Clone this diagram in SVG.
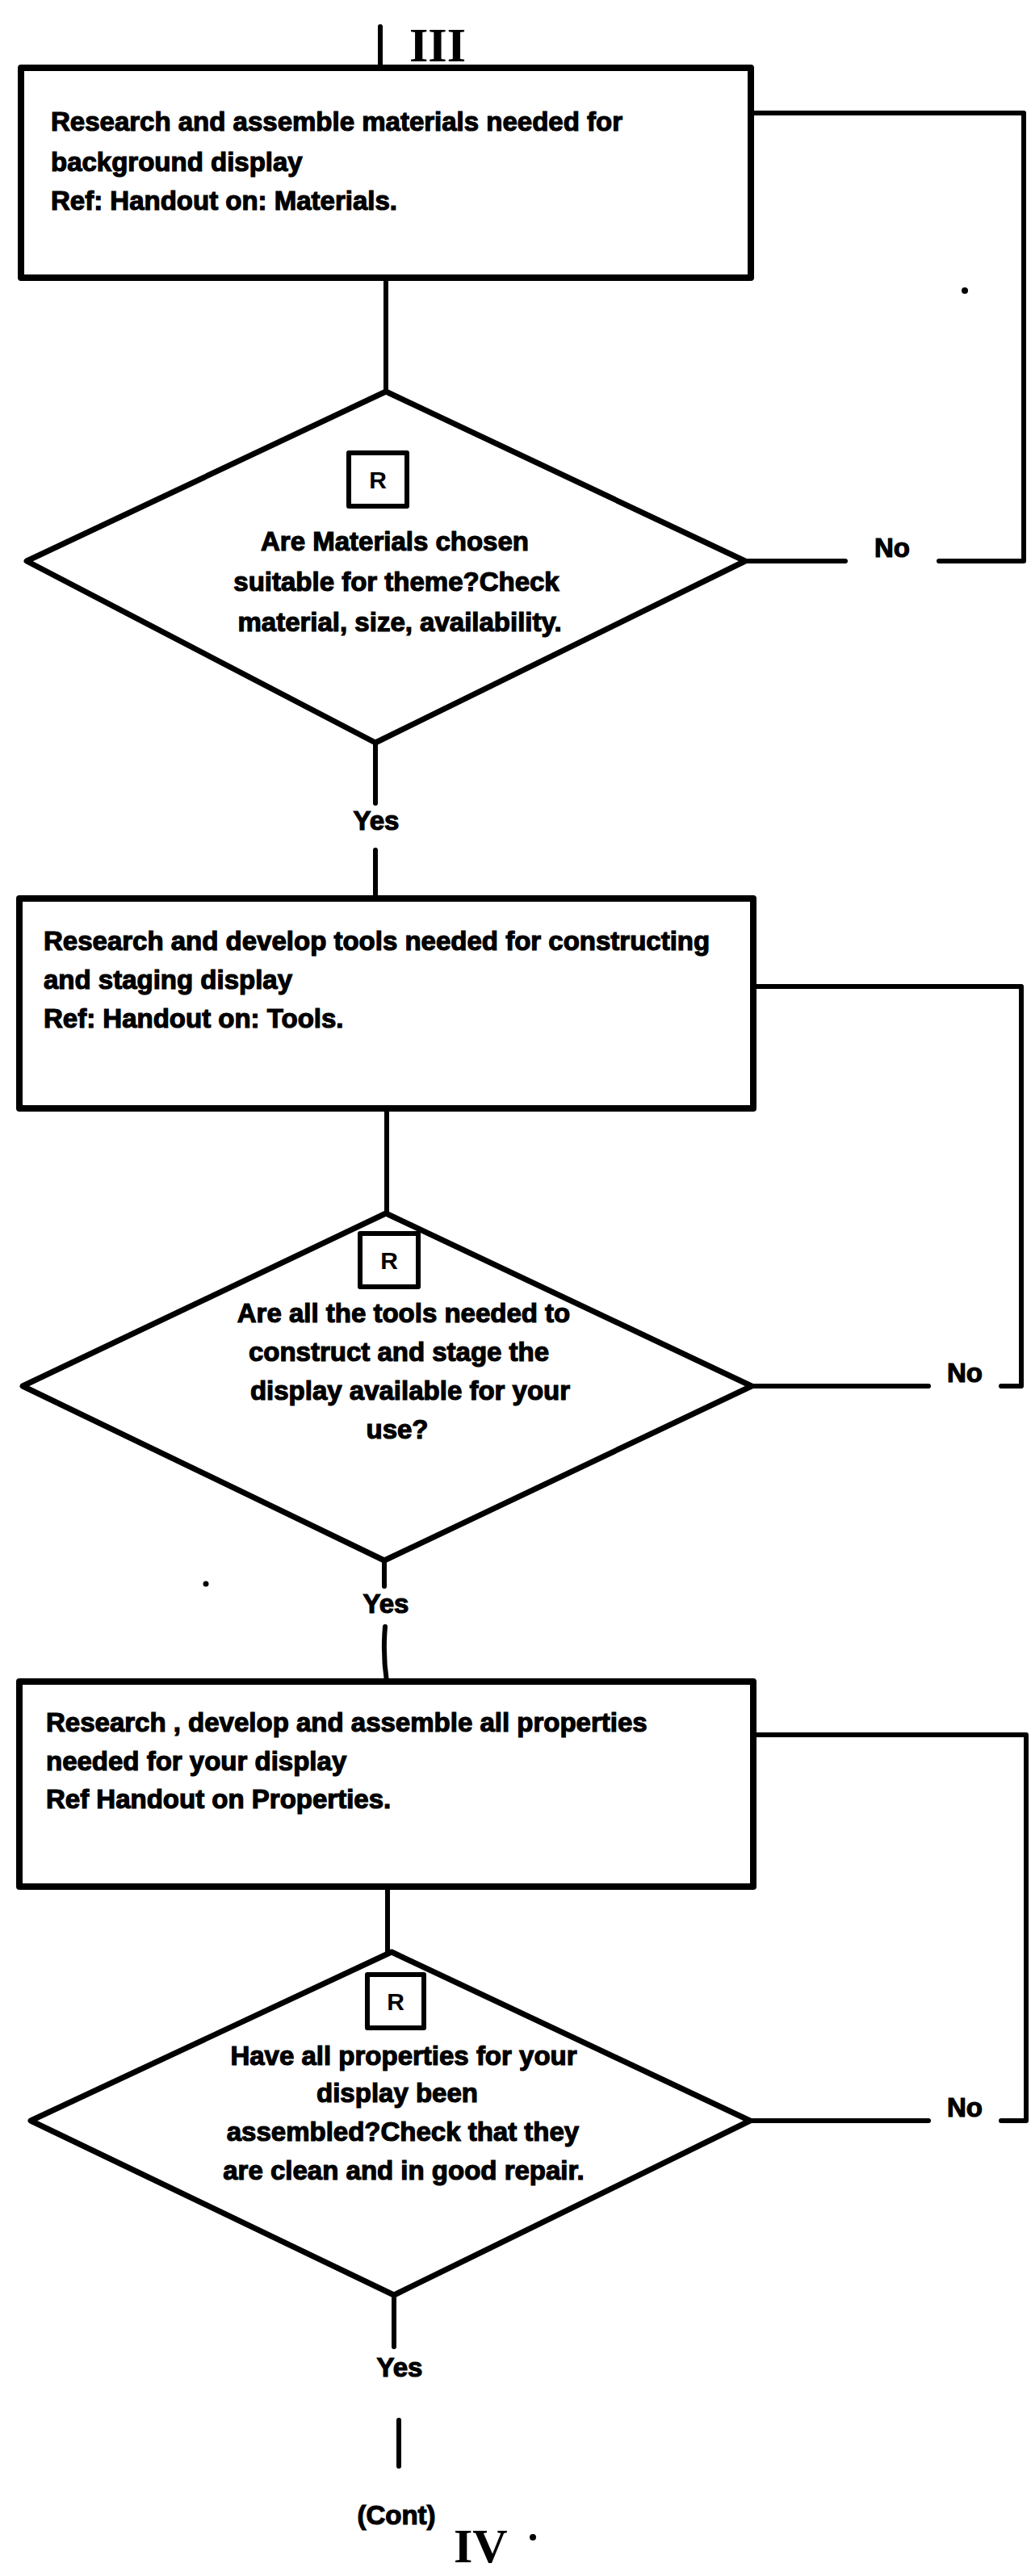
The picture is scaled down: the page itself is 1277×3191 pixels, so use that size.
<svg xmlns="http://www.w3.org/2000/svg" width="1277" height="3191" viewBox="0 0 1277 3191">
  <style>
    .box{fill:none;stroke:#000;stroke-width:8;stroke-linejoin:round}
    .dia{fill:none;stroke:#000;stroke-width:7;stroke-linejoin:round}
    .rbox{fill:none;stroke:#000;stroke-width:6;stroke-linejoin:round}
    .wire{fill:none;stroke:#000;stroke-width:6;stroke-linecap:round;stroke-linejoin:round}
    .t{font-family:"Liberation Sans",Arial,sans-serif;font-weight:bold;font-size:33px;fill:#000;stroke:#000;stroke-width:1.2}
    .c{text-anchor:middle}
    .roman{font-family:"Liberation Serif","Times New Roman",serif;font-weight:bold;font-size:60px;fill:#000}
    .r{font-family:"Liberation Sans",Arial,sans-serif;font-weight:bold;font-size:30px;fill:#000;text-anchor:middle}
  </style>
  <rect x="0" y="0" width="1277" height="3191" fill="#fff"/>

  <!-- page markers -->
  <g id="marker-top">
    <text class="roman" x="507" y="76">III</text>
  </g>
  <g id="marker-bottom">
    <text class="t c" x="491" y="3127">(Cont)</text>
    <text class="roman" x="562" y="3174">IV</text>
    <circle cx="660" cy="3143" r="4" fill="#000"/>
  </g>

  <!-- stray specks -->
  <circle cx="1195" cy="360" r="4" fill="#000"/>
  <circle cx="255" cy="1962" r="3.5" fill="#000"/>

  <!-- process boxes -->
  <g id="box-materials">
    <rect class="box" x="26" y="84" width="904" height="260"/>
    <text class="t" x="63" y="162">Research and assemble materials needed for</text>
    <text class="t" x="63" y="212">background display</text>
    <text class="t" x="63" y="260">Ref: Handout on: Materials.</text>
  </g>
  <g id="box-tools">
    <rect class="box" x="24" y="1113" width="909" height="260"/>
    <text class="t" x="54" y="1177">Research and develop tools needed for constructing</text>
    <text class="t" x="54" y="1225">and staging display</text>
    <text class="t" x="54" y="1273">Ref: Handout on: Tools.</text>
  </g>
  <g id="box-properties">
    <rect class="box" x="24" y="2083" width="909" height="254"/>
    <text class="t" x="57" y="2145">Research , develop and assemble all properties</text>
    <text class="t" x="57" y="2193">needed for your display</text>
    <text class="t" x="57" y="2240">Ref  Handout on Properties.</text>
  </g>

  <!-- decision diamonds -->
  <g id="check-materials">
    <polygon class="dia" points="478,485 923,695 465,920 33,695"/>
    <rect class="rbox" x="432" y="561" width="72" height="66"/>
    <text class="r" x="468" y="605">R</text>
    <text class="t c" x="489" y="682">Are Materials chosen</text>
    <text class="t c" x="491" y="732">suitable for theme?Check</text>
    <text class="t c" x="495" y="782">material, size, availability.</text>
  </g>
  <g id="check-tools">
    <polygon class="dia" points="478,1503 931,1717 476,1933 28,1717"/>
    <rect class="rbox" x="446" y="1528" width="72" height="66"/>
    <text class="r" x="482" y="1572">R</text>
    <text class="t c" x="500" y="1638">Are all the tools needed to</text>
    <text class="t c" x="494" y="1686">construct and stage the</text>
    <text class="t c" x="508" y="1734">display available for your</text>
    <text class="t c" x="492" y="1782">use?</text>
  </g>
  <g id="check-properties">
    <polygon class="dia" points="485,2418 929,2627 488,2843 38,2627"/>
    <rect class="rbox" x="455" y="2446" width="70" height="66"/>
    <text class="r" x="490" y="2490">R</text>
    <text class="t c" x="500" y="2558">Have all properties for your</text>
    <text class="t c" x="492" y="2604">display been</text>
    <text class="t c" x="499" y="2652">assembled?Check that they</text>
    <text class="t c" x="500" y="2700">are clean and in good repair.</text>
  </g>

  <!-- connectors and branch labels -->
  <g id="connectors">
    <path class="wire" d="M471 33 V84"/>
    <path class="wire" d="M478 344 V485"/>
    <path class="wire" d="M465 920 V995"/>
    <path class="wire" d="M465 1053 V1113"/>
    <path class="wire" d="M479 1373 V1503"/>
    <path class="wire" d="M476 1933 V1965"/>
    <path class="wire" d="M477 2015 Q474 2050 479 2083"/>
    <path class="wire" d="M480 2337 V2418"/>
    <path class="wire" d="M488 2843 V2907"/>
    <path class="wire" d="M494 2998 V3055"/>

    <path class="wire" d="M930 140 H1268 V695 H1163"/>
    <path class="wire" d="M1047 695 H923"/>
    <path class="wire" d="M933 1222 H1265 V1717 H1240"/>
    <path class="wire" d="M1150 1717 H931"/>
    <path class="wire" d="M933 2149 H1271 V2627 H1240"/>
    <path class="wire" d="M1150 2627 H929"/>

    <text class="t c" x="466" y="1028">Yes</text>
    <text class="t c" x="478" y="1998">Yes</text>
    <text class="t c" x="495" y="2944">Yes</text>
    <text class="t c" x="1105" y="690">No</text>
    <text class="t c" x="1195" y="1712">No</text>
    <text class="t c" x="1195" y="2622">No</text>
  </g>
</svg>
